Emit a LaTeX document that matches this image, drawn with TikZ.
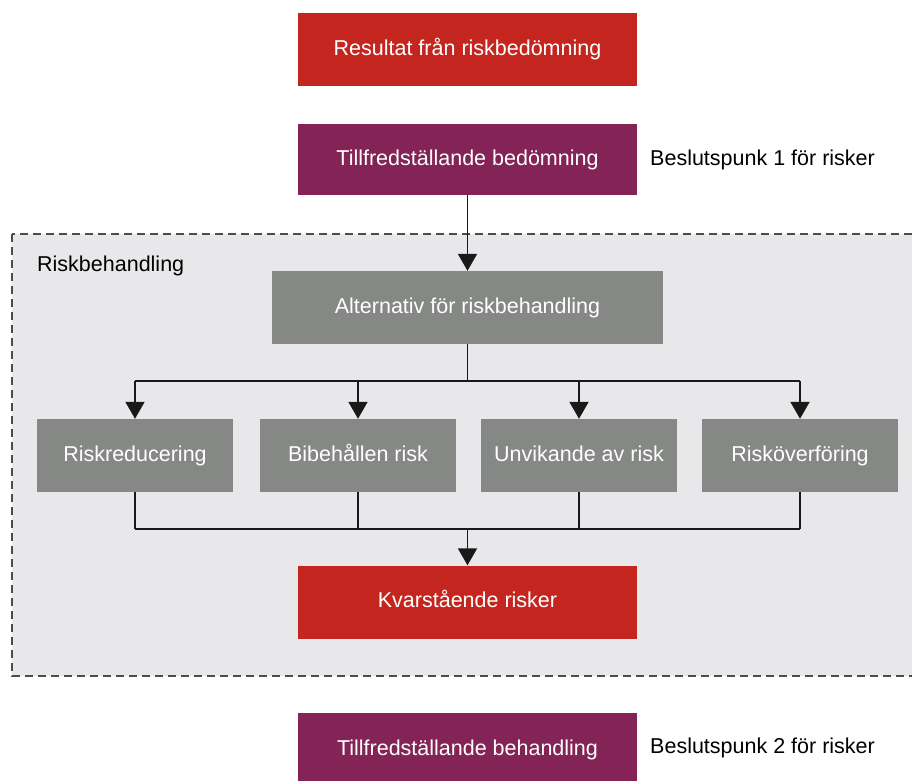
\documentclass[tikz,border=0pt]{standalone}
\usepackage{fontspec}
\setmainfont{Liberation Sans}
\usetikzlibrary{arrows.meta}
\definecolor{cred}{HTML}{C4261F}
\definecolor{cpurp}{HTML}{842456}
\definecolor{cgrey}{HTML}{868886}
\definecolor{cbg}{HTML}{E8E8EA}
\begin{document}
\begin{tikzpicture}[x=1pt,y=-1pt,
  box/.style={draw=none,minimum height=73pt,inner sep=0pt,text=white,font=\fontsize{21.5}{24}\selectfont,text height=15.5pt,text depth=4.5pt},
  redbox/.style={box,fill=cred,minimum width=339pt},
  purpbox/.style={box,fill=cpurp,minimum width=339pt},
  greybox/.style={box,fill=cgrey},
  lbl/.style={anchor=west,inner sep=0pt,font=\fontsize{21.5}{24}\selectfont,text height=15.5pt,text depth=4.5pt},
  conn/.style={line width=1.9pt,draw=black!90},
  arr/.style={conn,-{Triangle[length=17pt,width=19pt]}}]
\useasboundingbox (0,0) rectangle (912,780);
\begin{scope}
\clip (0,0) rectangle (912,780);
\draw[fill=cbg,dashed,line width=1.5pt,draw=black!70,dash pattern=on 8pt off 5pt] (12,234) rectangle (930,676);
\node[redbox] (res) at (467.5,49.5) {Resultat från riskbedömning};
\node[purpbox,minimum height=71pt] (tb) at (467.5,159.5) {Tillfredställande bedömning};
\node[lbl] (b1) at (650,160) {Beslutspunk 1 för risker};
\node[lbl] (rb) at (37,266) {Riskbehandling};
\node[greybox,minimum width=391pt] (alt) at (467.5,307.5) {Alternativ för riskbehandling};
\node[greybox,minimum width=196pt] (r1) at (135,455.5) {Riskreducering};
\node[greybox,minimum width=196pt] (r2) at (358,455.5) {Bibehållen risk};
\node[greybox,minimum width=196pt] (r3) at (579,455.5) {Unvikande av risk};
\node[greybox,minimum width=196pt] (r4) at (800,455.5) {Risköverföring};
\node[redbox] (kv) at (467.5,602) {Kvarstående risker};
\node[purpbox] (tbh) at (467.5,749.5) {Tillfredställande behandling};
\node[lbl] (b2) at (650,748) {Beslutspunk 2 för risker};
\coordinate (sp) at (467.5,381);
\coordinate (mp) at (467.5,529);
\draw[arr] (tb.south) -- (alt.north);
\draw[conn] (alt.south) -- (sp);
\draw[conn] (r1.north |- sp) -- (r4.north |- sp);
\foreach \n in {r1,r2,r3,r4}{
  \draw[arr] (\n.north |- sp) -- (\n.north);
  \draw[conn] (\n.south) -- (\n.south |- mp);
}
\draw[conn] (r1.south |- mp) -- (r4.south |- mp);
\draw[arr] (mp) -- (kv.north);
\end{scope}
\end{tikzpicture}
\end{document}
